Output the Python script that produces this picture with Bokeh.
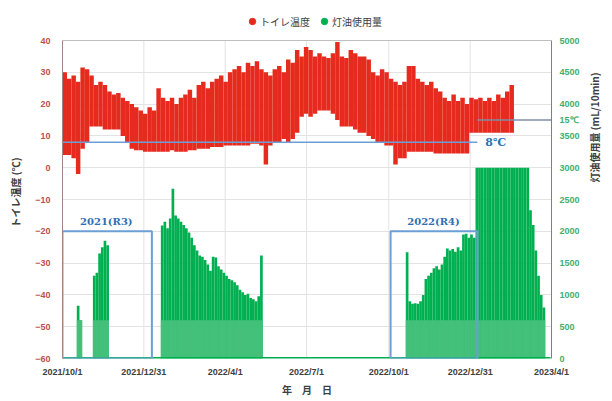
import math
import pandas as pd
from bokeh.plotting import figure
from bokeh.models import (Range1d, LinearAxis, FixedTicker, DatetimeTickFormatter,
                          Legend, LegendItem, Label)
from bokeh.embed import file_html
from bokeh.resources import INLINE

# ---------------- data ----------------
base_date = "2021-10-01"
temp_period_days = 5   # temperature envelope: one (low, high) pair per 5 days
temp_hi = [30, 28, 29, 27, 31.5, 31, 29, 26, 27, 26,
           24, 23, 23.5, 22, 21, 20, 19, 18, 17, 19,
           18, 25, 22, 21, 22, 20, 22, 23, 24.5, 22,
           26, 27, 25, 27, 28, 29, 27, 30, 31, 32,
           30, 33, 32, 33.5, 31, 30, 29, 31, 32, 30,
           34, 33, 37, 35, 38, 37, 35, 36, 35, 34.5,
           36, 39.5, 35, 34.5, 37, 36, 35, 35, 34, 30,
           29, 31, 30, 28, 27, 26, 27, 32, 32, 28,
           27, 26, 27, 25, 24, 22, 21, 23, 21, 22,
           20, 22, 21.5, 22, 21, 22, 21, 23, 22, 24, 26]
temp_lo = [4, 4, 3, -2, 6, 8, 13, 13, 13, 12,
           12, 12, 12, 10, 8, 6, 5.5, 5.5, 5, 5,
           5, 5, 5, 5, 5.5, 5, 5, 5, 5.5, 5.5,
           6, 6, 6, 6.5, 6.5, 6.5, 7, 7, 7, 7,
           7, 7, 7.5, 7.5, 7, 1, 7, 8, 8, 9,
           8, 9, 11, 16, 17, 16, 17, 18, 18, 18,
           17, 15, 13, 13, 13, 12, 11, 11, 10, 9,
           8, 8, 7, 7, 1, 3, 3, 5, 5, 5,
           5, 5, 5, 4.5, 4.5, 4.5, 4.5, 4.5, 4.5, 4.5,
           4.5, 11, 11, 11, 11, 11, 11, 11, 11, 11, 11]

fuel_bin_days = 3      # kerosene use: peak per 3-day bin (mL/10min)
fuel_day = [16, 19, 34, 37, 40, 43, 46, 49,
            110, 113, 116, 119, 122, 125, 128, 131, 134, 137, 140, 143, 146, 149,
            152, 155, 158, 161, 164, 167, 170, 173, 176, 179, 182, 185, 188, 191,
            194, 197, 200, 203, 206, 209, 212, 215, 218, 221,
            384, 387, 390, 393, 396, 399, 402, 405, 408, 411, 414, 417, 420, 423,
            426, 429, 432, 435, 438, 441, 444, 447, 450, 453, 456, 459,
            462, 465, 468, 471, 474, 477, 480, 483, 486, 489, 492, 495, 498, 501,
            504, 507, 510, 513, 516, 519, 522, 525, 528, 531, 534, 537]
fuel_max = [830, 600, 1300, 1350, 1650, 1750, 1850, 1780,
            2090, 2150, 2050, 2200, 2670, 2250, 2200, 2150, 2100, 2050, 1980, 1900, 1780, 1700,
            1620, 1600, 1550, 1480, 1380, 1600, 1590, 1450, 1400, 1350, 1300, 1250, 1230, 1200,
            1150, 1080, 1040, 1000, 1020, 950, 930, 900, 980, 1620,
            1670, 900, 860, 870, 860, 900, 1000, 1250, 1300, 1350, 1420, 1450, 1400, 1480,
            1600, 1730, 1700, 1720, 1680, 1750, 1700, 1950, 1960, 1900, 1950, 1900,
            3000, 3000, 3000, 3000, 3000, 3000, 3000, 3000, 3000, 3000, 3000, 3000, 3000, 3000,
            3000, 3000, 3000, 3000, 3000, 3000, 2330, 2100, 1700, 1300, 1000, 800]
fuel_sparse_top = 600  # below this level the readings are scattered (lighter look)
fuel_zero_span = ["2021-10-01", "2023-03-31"]

x_tick_dates = ["2021-10-01", "2021-12-31", "2022-04-01", "2022-07-01",
                "2022-10-01", "2022-12-31", "2023-04-01"]
left_ticks = list(range(-60, 41, 10))
right_ticks = list(range(0, 5001, 500))
temp_axis = (-60, 40)
fuel_axis = (0, 5000)

ref8_span = ["2021-10-01", "2023-01-08"]
ref15_span = ["2023-01-08", "2023-04-01"]
ref8_label_date = "2023-01-17"
ref15_on_right_axis = 3750   # 15 ℃ expressed on the right-hand scale

box_start = ["2021-10-01", "2022-10-03"]
box_end = ["2022-01-09", "2023-01-08"]
box_top = [-20, -20]
box_bottom = [-60, -60]
box_names = ["2021(R3)", "2022(R4)"]
box_label_dates = ["2021-11-19", "2022-11-20"]

series_names = ["トイレ温度", "灯油使用量"]

# ---------------- styles ----------------
RED = "#E62A1E"
GREEN = "#00B050"
GREEN_LIGHT = "#45C07A"
BLUE = "#6C9FD6"
BLUE_TXT = "#2E6FB4"
GRID = "#E3E3E3"
FRAME = "#BFBFBF"
JP = "Noto Sans CJK JP"
NUM = "Liberation Sans"
DAY_MS = 86400000
HEADROOM = 10.7   # extra room (in ℃) above the plot box where the legend sits

base = pd.Timestamp(base_date)
t_start = base + pd.to_timedelta([i * temp_period_days for i in range(len(temp_hi))], unit="D")
t_center = list(t_start + pd.Timedelta(days=temp_period_days / 2))
f_center = list(base + pd.to_timedelta([d + fuel_bin_days / 2 for d in fuel_day], unit="D"))
f_low = [min(v, fuel_sparse_top) for v in fuel_max]
tick_ts = [pd.Timestamp(d) for d in x_tick_dates]

t_span = temp_axis[1] - temp_axis[0]
y_top = temp_axis[1] + HEADROOM
fuel_top = fuel_axis[1] * (y_top - temp_axis[0]) / t_span

p = figure(width=612, height=401, x_axis_type="datetime",
           x_range=Range1d(tick_ts[0], tick_ts[-1]),
           y_range=Range1d(temp_axis[0], y_top),
           output_backend="svg", toolbar_location=None,
           min_border_left=62, min_border_right=55, min_border_top=6, min_border_bottom=43)
p.extra_y_ranges = {"fuel": Range1d(fuel_axis[0], fuel_top)}

# grid / frame
p.outline_line_color = None
p.xgrid.visible = False
p.ygrid.grid_line_color = GRID
p.background_fill_color = "white"
p.border_fill_color = "white"
p.segment(x0=tick_ts, y0=[temp_axis[0]] * len(tick_ts), x1=tick_ts, y1=[temp_axis[1]] * len(tick_ts),
          line_color=GRID, line_width=1)

# x axis
p.xaxis.ticker = FixedTicker(ticks=[t.value / 1e6 for t in tick_ts])
fmt = "%Y/%-m/%-d"
p.xaxis.formatter = DatetimeTickFormatter(days=fmt, months=fmt, years=fmt, hours=fmt,
                                          minutes=fmt, seconds=fmt, milliseconds=fmt,
                                          microseconds=fmt, hourmin=fmt, minsec=fmt)
p.xaxis.axis_label = "年　月　日"
p.xaxis.axis_line_color = None
p.xaxis.major_tick_line_color = None
p.xaxis.major_tick_out = 0
p.xaxis.major_tick_in = 0
p.xaxis.minor_tick_line_color = None
p.xaxis.major_label_standoff = 8
p.xaxis.axis_label_standoff = 2
p.xaxis.major_label_text_font = NUM
p.xaxis.major_label_text_font_size = "9px"
p.xaxis.major_label_text_font_style = "bold"
p.xaxis.major_label_text_color = "#404040"
p.xaxis.axis_label_text_font = JP
p.xaxis.axis_label_text_font_size = "10px"
p.xaxis.axis_label_text_font_style = "bold"
p.xaxis.axis_label_text_color = "#404040"

# left axis
p.yaxis.ticker = FixedTicker(ticks=left_ticks)
p.yaxis.bounds = temp_axis
p.yaxis.axis_label = "トイレ温度 (℃)　　"
p.yaxis.axis_line_color = "#A08585"
p.yaxis.major_tick_line_color = None
p.yaxis.major_tick_out = 0
p.yaxis.major_tick_in = 0
p.yaxis.minor_tick_line_color = None
p.yaxis.major_label_standoff = 12
p.yaxis.axis_label_standoff = 9
p.yaxis.major_label_text_font = NUM
p.yaxis.major_label_text_font_size = "9px"
p.yaxis.major_label_text_font_style = "bold"
p.yaxis.major_label_text_color = "#C0504D"
p.yaxis.axis_label_text_font = JP
p.yaxis.axis_label_text_font_size = "10px"
p.yaxis.axis_label_text_font_style = "bold"
p.yaxis.axis_label_text_color = "#404040"

# right axis
ry = LinearAxis(y_range_name="fuel", ticker=FixedTicker(ticks=right_ticks + [ref15_on_right_axis]))
ry.bounds = fuel_axis
ry.major_label_overrides = {ref15_on_right_axis: "15℃"}
ry.axis_label = "灯油使用量 (mL/10min)　　　　"
try:
    ry.axis_label_orientation = math.pi / 2
except Exception:
    pass
ry.axis_line_color = "#808080"
ry.major_tick_line_color = None
ry.major_tick_out = 0
ry.major_tick_in = 0
ry.minor_tick_line_color = None
ry.major_label_standoff = 8
ry.axis_label_standoff = 12
ry.major_label_text_font = NUM
ry.major_label_text_font_size = "9px"
ry.major_label_text_font_style = "bold"
ry.major_label_text_color = "#3FAF6E"
ry.axis_label_text_font = JP
ry.axis_label_text_font_size = "10px"
ry.axis_label_text_font_style = "bold"
ry.axis_label_text_color = "#404040"
p.add_layout(ry, "right")

# top edge of the plot box
p.line(x=[tick_ts[0], tick_ts[-1]], y=[temp_axis[1]] * 2, line_color=FRAME, line_width=1.2)

# kerosene use (green)
p.vbar(x=f_center, top=fuel_max, bottom=0, width=fuel_bin_days * DAY_MS,
       y_range_name="fuel", fill_color=GREEN, line_color=None)
p.vbar(x=f_center, top=f_low, bottom=0, width=fuel_bin_days * DAY_MS,
       y_range_name="fuel", fill_color=GREEN_LIGHT, line_color=None)
p.line(x=[pd.Timestamp(d) for d in fuel_zero_span], y=[0, 0], y_range_name="fuel",
       line_color=GREEN, line_width=3)

# toilet temperature (red)
p.vbar(x=t_center, top=temp_hi, bottom=temp_lo, width=temp_period_days * DAY_MS,
       fill_color=RED, line_color=None)

# reference lines
p.line(x=[pd.Timestamp(d) for d in ref8_span], y=[8, 8], line_color=BLUE, line_width=1.5)
p.line(x=[pd.Timestamp(d) for d in ref15_span], y=[15, 15], line_color="#7F8FA6", line_width=1.5)

# season boxes
p.quad(left=[pd.Timestamp(d) for d in box_start], right=[pd.Timestamp(d) for d in box_end],
       top=box_top, bottom=box_bottom, fill_alpha=0, line_color=BLUE, line_width=2)

for name, d, top in zip(box_names, box_label_dates, box_top):
    p.add_layout(Label(x=pd.Timestamp(d), y=top + 1.2, text=name, text_align="center",
                       text_baseline="bottom", text_font="DejaVu Serif", text_font_style="bold",
                       text_font_size="10px", text_color=BLUE_TXT))
p.add_layout(Label(x=pd.Timestamp(ref8_label_date), y=8, text="8℃", text_align="left",
                   text_baseline="middle", text_font="DejaVu Serif", text_font_style="bold",
                   text_font_size="11px", text_color=BLUE_TXT))

# legend (top strip above the plot box); the key markers carry no visible point
nan = float("nan")
r1 = p.scatter(x=[nan], y=[nan], marker="circle", size=8, color=RED)
r2 = p.scatter(x=[nan], y=[nan], marker="circle", size=8, color=GREEN)
legend = Legend(items=[LegendItem(label=series_names[0], renderers=[r1]),
                       LegendItem(label=series_names[1], renderers=[r2])],
                orientation="horizontal", location=(180, 327),
                label_text_font=JP, label_text_font_size="10px", label_text_color="#404040",
                glyph_width=16, glyph_height=16, label_standoff=0, spacing=6,
                padding=2, margin=0, border_line_alpha=0, background_fill_alpha=0)
p.add_layout(legend)

open("out.html", "w").write(file_html(p, INLINE))
